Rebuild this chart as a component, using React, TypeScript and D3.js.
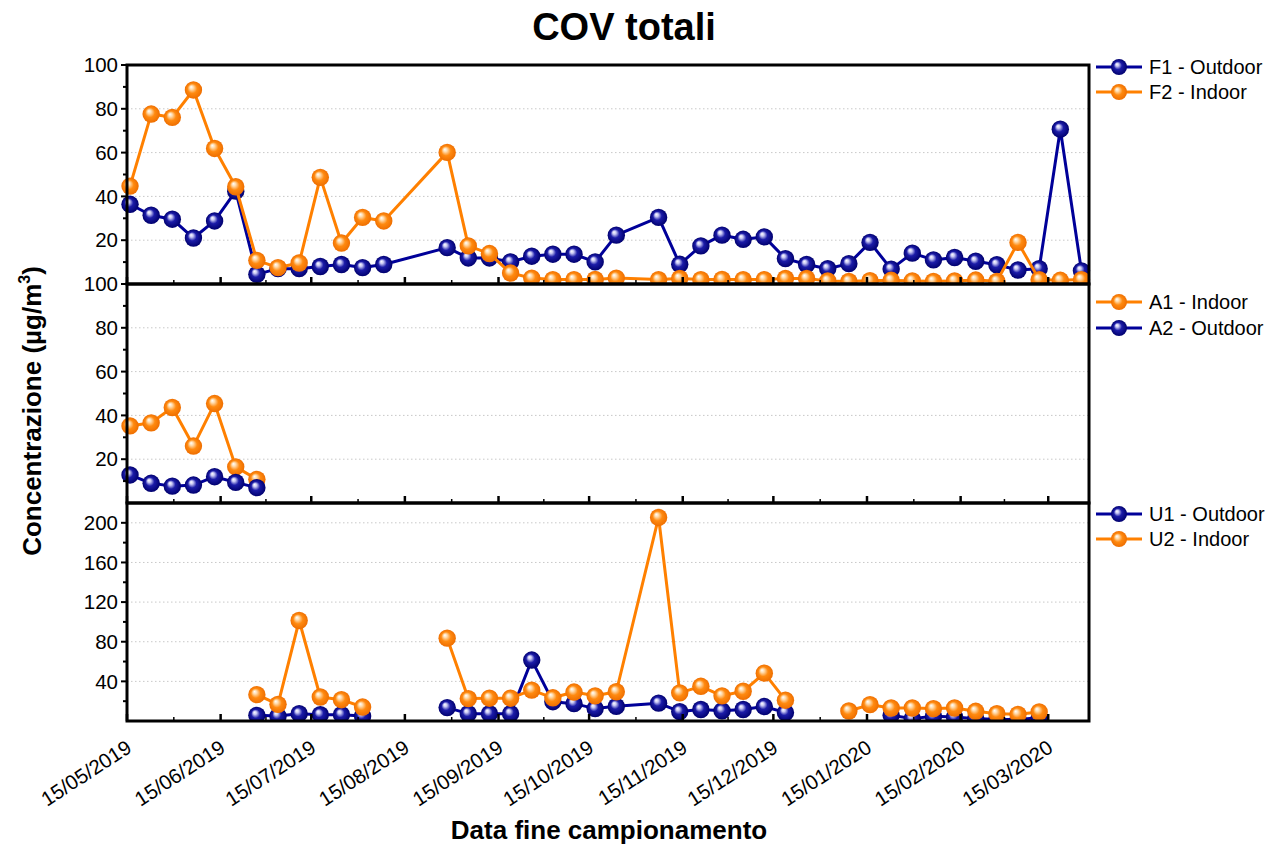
import { useEffect, useRef } from 'react'
import * as d3 from 'd3'

// sampling dates (weekly, end of campaign)
const dates = [
  '16/05/2019', '23/05/2019', '30/05/2019', '06/06/2019', '13/06/2019', '20/06/2019', '27/06/2019',
  '04/07/2019', '11/07/2019', '18/07/2019', '25/07/2019', '01/08/2019', '08/08/2019', '29/08/2019',
  '05/09/2019', '12/09/2019', '19/09/2019', '26/09/2019', '03/10/2019', '10/10/2019', '17/10/2019',
  '24/10/2019', '07/11/2019', '14/11/2019', '21/11/2019', '28/11/2019', '05/12/2019', '12/12/2019',
  '19/12/2019', '26/12/2019', '02/01/2020', '09/01/2020', '16/01/2020', '23/01/2020', '30/01/2020',
  '06/02/2020', '13/02/2020', '20/02/2020', '27/02/2020', '05/03/2020', '12/03/2020', '19/03/2020',
  '26/03/2020',
]

const f1Outdoor = [
  36.4, 31.4, 29.6, 21.0, 28.8, 42.4, 4.4, 7.0, 7.0, 8.0, 8.9, 7.5, 8.9, 16.6, 11.9, 11.9, 10.1,
  12.7, 13.6, 13.6, 10.1, 22.3, 30.4, 9.0, 17.4, 22.3, 20.4, 21.5, 11.6, 8.9, 7.0, 9.3, 19.0, 6.8,
  14.1, 11.0, 12.1, 10.4, 8.8, 6.4, 7.0, 70.7, 6.0,
]
const f2Indoor = [
  44.7, 77.6, 76.1, 88.6, 61.9, 44.4, 10.8, 7.5, 9.6, 48.7, 18.7, 30.4, 28.8, 60.1, 17.4, 13.9, 5.0,
  2.7, 2.0, 2.0, 2.1, 2.7, 2.0, 2.5, 2.0, 2.1, 2.0, 2.0, 2.5, 2.5, 1.4, 1.2, 1.5, 1.7, 1.4, 1.2, 1.4,
  1.8, 1.2, 19.0, 2.0, 1.7, 2.0,
]

const a1Indoor = [35.2, 36.6, 43.6, 26.0, 45.4, 16.5, 10.8]
const a2Outdoor = [12.8, 9.0, 7.7, 8.2, 12.0, 9.4, 7.0]

const u1Outdoor = [
  null, null, null, null, null, null, 5.7, 5.0, 7.4, 6.4, 6.4, 5.0, null, 13.5, 7.4, 7.4, 7.4, 61.5,
  19.5, 17.5, 12.5, 14.8, 18.0, 9.5, 11.6, 10.3, 11.6, 14.6, 8.5, null, null, null, null, 5.7, 2.4,
  4.7, 4.0, 2.4, 1.4, 1.4, 3.4, null, null,
]
const u2Indoor = [
  null, null, null, null, null, null, 26.6, 16.8, 101.4, 24.2, 21.5, 14.1, null, 83.6, 22.6, 23.0,
  23.0, 31.2, 23.4, 29.2, 25.4, 29.5, 205.4, 28.4, 35.0, 25.4, 30.0, 48.3, 21.0, null, null, 10.1,
  16.5, 13.1, 13.1, 12.5, 13.1, 9.8, 7.4, 6.7, 9.1, null, null,
]

const xTickLabels = [
  '15/05/2019', '15/06/2019', '15/07/2019', '15/08/2019', '15/09/2019', '15/10/2019',
  '15/11/2019', '15/12/2019', '15/01/2020', '15/02/2020', '15/03/2020',
]
const topTicks = [20, 40, 60, 80, 100]
const midTicks = [20, 40, 60, 80, 100]
const bottomTicks = [40, 80, 120, 160, 200]

const W = 1282
const H = 848
const X0 = 127
const X1 = 1089
const FONT = "'Liberation Sans', Arial, sans-serif"
const BLUE = '#000099'
const ORANGE = '#ff8000'

const parse = d3.utcParse('%d/%m/%Y')

export default function App() {
  const svgRef = useRef<SVGSVGElement>(null)

  useEffect(() => {
    if (!svgRef.current) return
    const svg = d3.select(svgRef.current)
    svg.selectAll('*').remove()

    const x = d3
      .scaleUtc()
      .domain([parse('15/05/2019')!, new Date(Date.UTC(2020, 2, 28, 12))])
      .range([X0, X1])

    const defs = svg.append('defs')
    const grad = (id: string, stops: [number, string][]) => {
      const g = defs
        .append('radialGradient')
        .attr('id', id)
        .attr('cx', '50%')
        .attr('cy', '50%')
        .attr('r', '50%')
        .attr('fx', '36%')
        .attr('fy', '32%')
      stops.forEach(([o, c]) => g.append('stop').attr('offset', o).attr('stop-color', c))
    }
    grad('ball-blue', [[0, '#ffffff'], [0.2, '#c8c8f4'], [0.5, '#1c1ca8'], [1, '#00006e']])
    grad('ball-orange', [[0, '#ffffff'], [0.22, '#ffdcae'], [0.55, '#ff8a10'], [1, '#ee6e00']])

    const colorOf = { blue: BLUE, orange: ORANGE }

    const panels = [
      {
        y0: 65, y1: 284, max: 100, ticks: topTicks, minor: [10, 30, 50, 70, 90],
        series: [
          { label: 'F1 - Outdoor', values: f1Outdoor, kind: 'blue' },
          { label: 'F2 - Indoor', values: f2Indoor, kind: 'orange' },
        ],
        legendY: [67, 92],
      },
      {
        y0: 284, y1: 503, max: 100, ticks: midTicks, minor: [10, 30, 50, 70, 90],
        series: [
          { label: 'A1 - Indoor', values: a1Indoor, kind: 'orange' },
          { label: 'A2 - Outdoor', values: a2Outdoor, kind: 'blue' },
        ],
        legendY: [302, 328],
      },
      {
        y0: 503, y1: 721, max: 220, ticks: bottomTicks, minor: [20, 60, 100, 140, 180],
        series: [
          { label: 'U1 - Outdoor', values: u1Outdoor, kind: 'blue' },
          { label: 'U2 - Indoor', values: u2Indoor, kind: 'orange' },
        ],
        legendY: [514, 539],
      },
    ]

    const xTicks = xTickLabels.map((s) => parse(s)!)
    const xMinor = xTicks
      .map((d, i) => (i < xTicks.length - 1 ? new Date((+d + +xTicks[i + 1]) / 2) : null))
      .filter(Boolean) as Date[]

    panels.forEach((p, pi) => {
      const y = d3.scaleLinear().domain([0, p.max]).range([p.y1, p.y0])
      const g = svg.append('g')

      // grid
      g.selectAll('line.grid')
        .data(p.ticks.filter((v) => y(v) > p.y0 + 2))
        .enter()
        .append('line')
        .attr('x1', X0)
        .attr('x2', X1)
        .attr('y1', (d) => y(d))
        .attr('y2', (d) => y(d))
        .attr('stroke', '#c8c8c8')
        .attr('stroke-dasharray', '1.5,2.5')

      // series
      defs
        .append('clipPath')
        .attr('id', `clip-${pi}`)
        .append('rect')
        .attr('x', 0)
        .attr('y', p.y0)
        .attr('width', W)
        .attr('height', p.y1 - p.y0)

      const sg = g.append('g').attr('clip-path', `url(#clip-${pi})`)
      p.series.forEach((s) => {
        const pts = dates.map((d, i) => ({ date: parse(d)!, v: s.values[i] ?? null }))
        const line = d3
          .line<{ date: Date; v: number | null }>()
          .defined((d) => d.v != null)
          .x((d) => x(d.date))
          .y((d) => y(d.v as number))
        sg.append('path')
          .attr('d', line(pts))
          .attr('fill', 'none')
          .attr('stroke', colorOf[s.kind as 'blue' | 'orange'])
          .attr('stroke-width', 3)
          .attr('stroke-linejoin', 'round')
        sg.selectAll(null)
          .data(pts.filter((d) => d.v != null))
          .enter()
          .append('circle')
          .attr('cx', (d) => x(d.date))
          .attr('cy', (d) => y(d.v as number))
          .attr('r', 8.7)
          .attr('fill', `url(#ball-${s.kind})`)
      })

      // frame
      g.append('rect')
        .attr('x', X0)
        .attr('y', p.y0)
        .attr('width', X1 - X0)
        .attr('height', p.y1 - p.y0)
        .attr('fill', 'none')
        .attr('stroke', '#000')
        .attr('stroke-width', 3)

      // y ticks
      g.selectAll(null)
        .data(p.ticks)
        .enter()
        .append('line')
        .attr('x1', X0 - 6)
        .attr('x2', X0)
        .attr('y1', (d) => y(d))
        .attr('y2', (d) => y(d))
        .attr('stroke', '#000')
        .attr('stroke-width', 2)
      g.selectAll(null)
        .data(p.minor)
        .enter()
        .append('line')
        .attr('x1', X0 - 4)
        .attr('x2', X0)
        .attr('y1', (d) => y(d))
        .attr('y2', (d) => y(d))
        .attr('stroke', '#000')
        .attr('stroke-width', 2)
      g.selectAll(null)
        .data(p.ticks)
        .enter()
        .append('text')
        .attr('x', 118)
        .attr('y', (d) => y(d))
        .attr('dy', '0.35em')
        .attr('text-anchor', 'end')
        .attr('font-family', FONT)
        .attr('font-size', 20.5)
        .text((d) => d)

      // x ticks (inward)
      g.selectAll(null)
        .data(xTicks)
        .enter()
        .append('line')
        .attr('x1', (d) => x(d))
        .attr('x2', (d) => x(d))
        .attr('y1', p.y1)
        .attr('y2', p.y1 - 7)
        .attr('stroke', '#000')
        .attr('stroke-width', 2.5)
      g.selectAll(null)
        .data(xMinor)
        .enter()
        .append('line')
        .attr('x1', (d) => x(d))
        .attr('x2', (d) => x(d))
        .attr('y1', p.y1)
        .attr('y2', p.y1 - 4)
        .attr('stroke', '#000')
        .attr('stroke-width', 1.5)

      // legend
      p.series.forEach((s, i) => {
        const ly = p.legendY[i]
        const c = colorOf[s.kind as 'blue' | 'orange']
        g.append('line')
          .attr('x1', 1096)
          .attr('x2', 1142)
          .attr('y1', ly)
          .attr('y2', ly)
          .attr('stroke', c)
          .attr('stroke-width', 3)
        g.append('circle')
          .attr('cx', 1119)
          .attr('cy', ly)
          .attr('r', 8)
          .attr('fill', `url(#ball-${s.kind})`)
        g.append('text')
          .attr('x', 1149)
          .attr('y', ly)
          .attr('dy', '0.35em')
          .attr('font-family', FONT)
          .attr('font-size', 20)
          .text(s.label)
      })
    })

    // x tick labels
    svg.append('g')
      .selectAll('text')
      .data(xTicks)
      .enter()
      .append('text')
      .attr('transform', (d) => `translate(${x(d) + 6},751) rotate(-33)`)
      .attr('text-anchor', 'end')
      .attr('font-family', FONT)
      .attr('font-size', 20.5)
      .text((d, i) => xTickLabels[i])

    // titles
    svg.append('text')
      .attr('x', 624)
      .attr('y', 40)
      .attr('text-anchor', 'middle')
      .attr('font-family', FONT)
      .attr('font-weight', 'bold')
      .attr('font-size', 38)
      .text('COV totali')

    svg.append('text')
      .attr('x', 609)
      .attr('y', 839)
      .attr('text-anchor', 'middle')
      .attr('font-family', FONT)
      .attr('font-weight', 'bold')
      .attr('font-size', 26)
      .text('Data fine campionamento')

    const yt = svg.append('text')
      .attr('transform', 'translate(41,411) rotate(-90)')
      .attr('text-anchor', 'middle')
      .attr('font-family', FONT)
      .attr('font-weight', 'bold')
      .attr('font-size', 26)
    yt.append('tspan').text('Concentrazione (µg/m')
    yt.append('tspan').attr('font-size', 16).attr('dy', -11).text('3')
    yt.append('tspan').attr('dy', 11).text(')')
  }, [])

  return (
    <svg
      ref={svgRef}
      width={W}
      height={H}
      style={{ position: 'absolute', left: 0, top: 0, background: '#fff' }}
    />
  )
}
